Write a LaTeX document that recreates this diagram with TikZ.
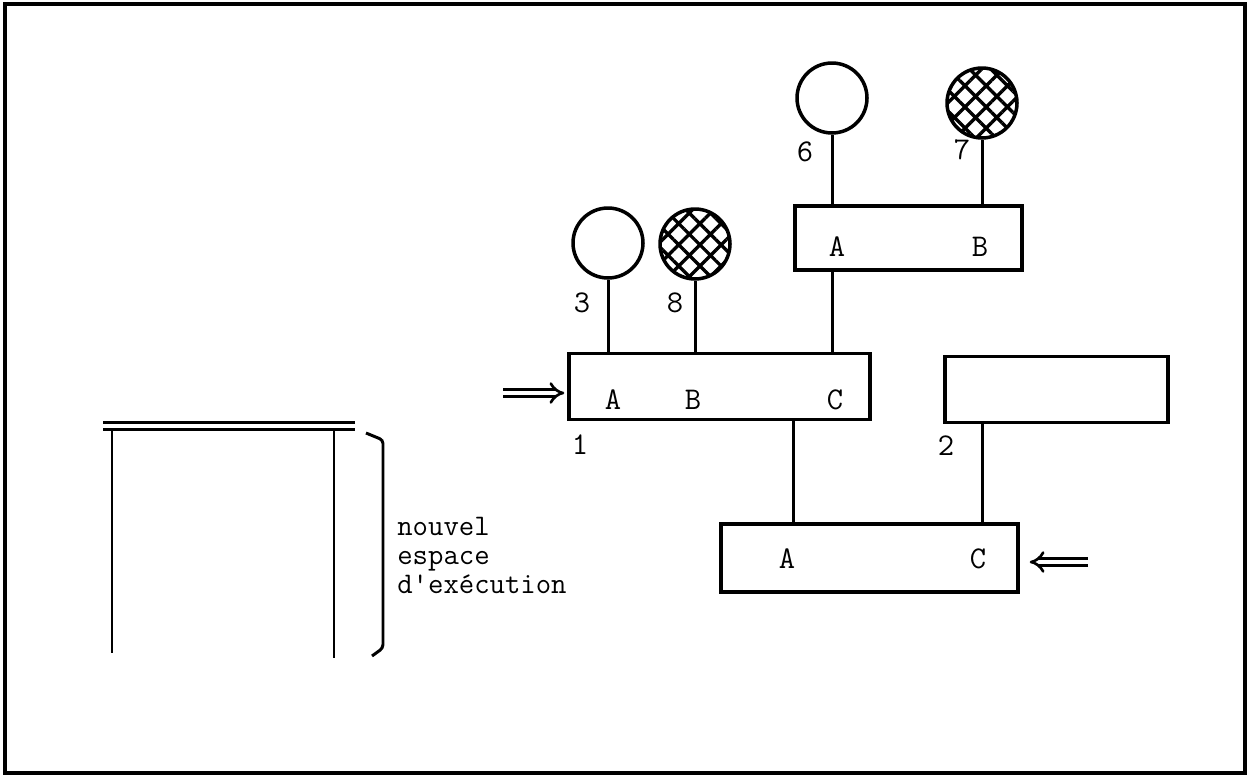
\documentclass[tikz,border=0pt]{standalone}
\usetikzlibrary{arrows.meta,positioning,calc,patterns.meta}
\tikzset{
  >={Implies},
  unit/.style={draw,line width=2pt,minimum width=#1,minimum height=1.32cm,inner sep=0pt},
  unit/.default=6cm,
  ball/.style={circle,draw,line width=2pt,minimum size=1.4cm,inner sep=0pt},
  hatched ball/.style={ball,pattern={Hatch[angle=45,distance=0.3cm,line width=1.9pt]}},
  stem/.style={line width=1.7pt},
  lbl/.style={font=\fontsize{18}{20}\selectfont\ttfamily,inner sep=0pt},
  entry/.style={->,double,double distance=0.09cm,line width=1.5pt,shorten >=#1},
  entry/.default=0.06cm,
}
\begin{document}
\begin{tikzpicture}[x=0.02cm,y=-0.02cm]
  \useasboundingbox (0,0) rectangle (1250,775);
  \draw[line width=1.8pt] (5,4) rectangle (1245,773);
  % boxes
  \node[unit=6.02cm] (p1) at (719.5,386.5) {};
  \node[unit=4.54cm,minimum height=1.28cm] (p4) at (908.5,238) {};
  \node[unit=4.46cm] (p2) at (1056.5,389.5) {};
  \node[unit=5.94cm,minimum height=1.36cm] (p5) at (869.5,558) {};
  % balls
  \node[ball] (b3) at (608,243) {};
  \node[hatched ball] (b8) at (695,244) {};
  \node[ball] (b6) at (832,98) {};
  \node[hatched ball] (b7) at (982,103) {};
  % letters
  \node[lbl] (p1a) at (613,400) {A};
  \node[lbl] (p1b) at (693,400) {B};
  \node[lbl] (p1c) at (835,400) {C};
  \node[lbl] (p4a) at (837,247) {A};
  \node[lbl] (p4b) at (980,247) {B};
  \node[lbl] (p5a) at (787,559) {A};
  \node[lbl] (p5c) at (978,559) {C};
  \node[lbl] (n3) at (582,303) {3};
  \node[lbl] (n8) at (675,303) {8};
  \node[lbl] (n6) at (805,152) {6};
  \node[lbl] (n7) at (962,150) {7};
  \node[lbl] (n1) at (580,445) {1};
  \node[lbl] (n2) at (946,446) {2};
  % stems
  \draw[stem] (b3) -- (b3 |- p1.north);
  \draw[stem] (b8) -- (b8 |- p1.north);
  \draw[stem] (b6) -- (b6 |- p4.north);
  \draw[stem] (b7) -- (b7 |- p4.north);
  \draw[stem] (b6 |- p4.south) -- (b6 |- p1.north);
  \coordinate (j1) at ($(p1.south west)+(226,0)$);
  \draw[stem] (j1) -- (j1 |- p5.north);
  \draw[stem] (b7 |- p2.south) -- (b7 |- p5.north);
  % entries
  \coordinate (in1) at (503,393);
  \draw[entry] (in1) -- (in1 -| p1.west);
  \coordinate (in2) at (1088,562);
  \draw[entry=0.2cm] (in2) -- (in2 -| p5.east);
  % new space
  \draw[line width=1.7pt] (103,422) -- (355,422) (103,429) -- (355,429);
  \draw[line width=1.7pt] (112,429) -- (112,653) (334,429) -- (334,658);
  \draw[line width=1.7pt,rounded corners=2pt] (366,433) -- (383,440) -- (383,648) -- (372,656);
  \node[lbl,font=\fontsize{17}{16.4}\selectfont\ttfamily,align=left,anchor=north west] (txt) at (397,517)
    {nouvel\\espace\\d\textquotesingle exécution};
\end{tikzpicture}
\end{document}
